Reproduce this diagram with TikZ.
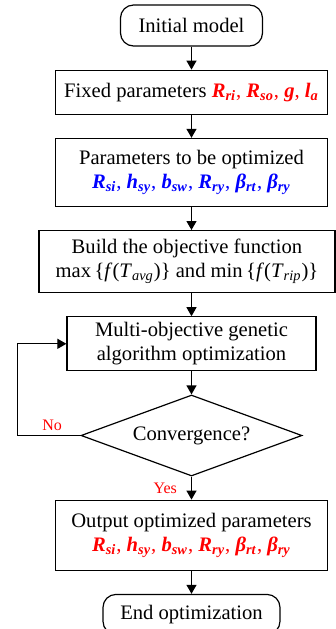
\documentclass[tikz,border=0pt]{standalone}
\usepackage{fontspec}
\setmainfont{Liberation Serif}
\usetikzlibrary{positioning,shapes.geometric,arrows.meta}
\newcommand{\pv}[2]{\textbf{\textit{#1}\textsubscript{\textit{#2}}}}

\begin{document}
\begin{tikzpicture}[
    font=\fontsize{10.3}{12}\selectfont,
    node distance=11.5pt,
    box/.style={draw, line width=0.6pt, align=center, inner sep=2pt, minimum width=136pt},
    term/.style={draw, line width=0.6pt, rounded corners=6.5pt, inner sep=2pt, minimum height=20.5pt},
    decide/.style={draw, line width=0.6pt, diamond, aspect=2.7, inner sep=0pt, minimum width=110.5pt, minimum height=40.5pt},
    arr/.style={-{Triangle[length=4.5pt, width=5pt]}, line width=0.6pt},
    lbl/.style={font=\fontsize{8}{9}\selectfont, text=red, inner sep=2pt}
  ]
  \useasboundingbox (0,0) rectangle (168pt,-314.5pt);
  \node[term, minimum width=71pt] (init) at (95.75pt,-12.75pt) {Initial model};
  \node[box, minimum height=22pt, below=of init] (fixed) {Fixed parameters {\color{red}\pv{R}{ri}, \pv{R}{so}, \textbf{\textit{g}}, \pv{l}{a}}};
  \node[box, minimum height=34pt, below=of fixed] (params) {Parameters to be optimized\\{\color{blue}\pv{R}{si}, \pv{h}{sy}, \pv{b}{sw}, \pv{R}{ry}, \pv{β}{rt}, \pv{β}{ry}}};
  \node[box, minimum width=148pt, minimum height=31pt, below=of params, xshift=-2.25pt] (obj) {Build the objective function\\max\,\{\textit{f}(\textit{T}\textsubscript{\textit{avg}})\} and min\,\{\textit{f}(\textit{T}\textsubscript{\textit{rip}})\}};
  \node[box, minimum width=124.5pt, minimum height=27pt, below=of obj, xshift=2.25pt] (moga) {Multi-objective genetic\\algorithm optimization};
  \node[decide, below=of moga] (conv) {Convergence?};
  \node[box, minimum height=35pt, below=of conv] (out) {Output optimized parameters\\{\color{red}\pv{R}{si}, \pv{h}{sy}, \pv{b}{sw}, \pv{R}{ry}, \pv{β}{rt}, \pv{β}{ry}}};
  \node[term, minimum width=88.5pt, minimum height=20pt, below=of out] (done) {End optimization};

  \draw[arr] (init) -- (fixed);
  \draw[arr] (fixed) -- (params);
  \draw[arr] (params.south) -- (params.south|-obj.north);
  \draw[arr] (moga.north|-obj.south) -- (moga);
  \draw[arr] (moga) -- (conv);
  \draw[arr] (conv) -- node[lbl, left=5pt]{Yes} (out);
  \draw[arr] (out) -- (done);
  \draw[arr] (conv.west) -- node[lbl, above, pos=0.45]{No} ++(-31.5pt,0) |- (moga.west);
\end{tikzpicture}
\end{document}
